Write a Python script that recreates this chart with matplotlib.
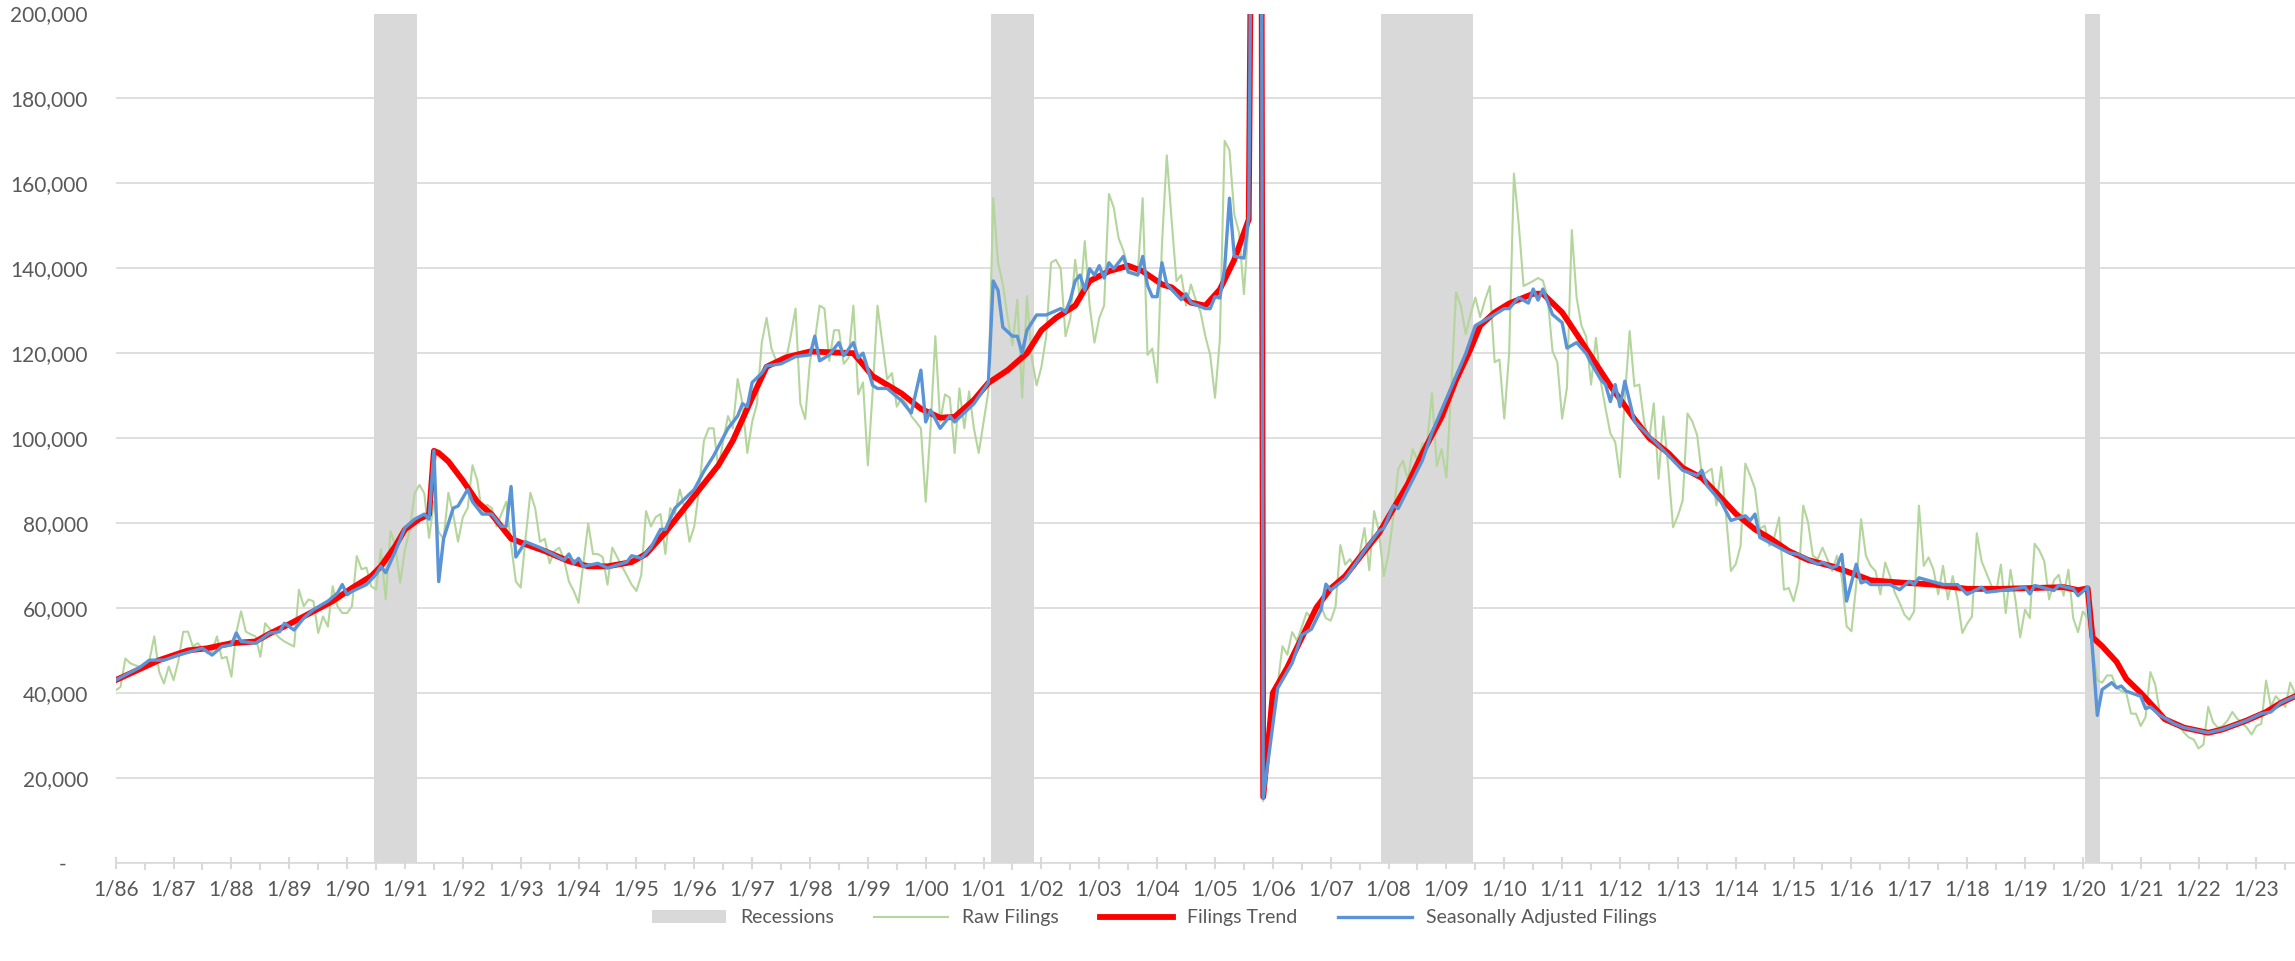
import matplotlib
matplotlib.use("Agg")
import matplotlib.pyplot as plt
from matplotlib.patches import Patch
from matplotlib.lines import Line2D
from matplotlib.ticker import FuncFormatter, MultipleLocator

# monthly raw filings (thousands), one row per year, 1/86 .. 9/23
raw_by_year = [
    [40.6, 41.4, 48.1, 47.0, 46.5, 46.2, 47.0, 47.7, 53.3, 45.0, 42.2, 46.2],   # 1986
    [43.0, 47.5, 54.4, 54.4, 50.9, 51.7, 50.5, 49.3, 49.8, 53.3, 48.1, 48.5],   # 1987
    [43.8, 54.1, 59.2, 54.4, 53.8, 53.3, 48.5, 56.4, 55.0, 54.1, 52.9, 52.1],   # 1988
    [51.5, 50.9, 64.3, 60.4, 62.0, 61.6, 54.1, 58.0, 55.6, 65.1, 60.4, 58.8],   # 1989
    [58.8, 60.4, 72.2, 69.1, 69.5, 65.1, 64.3, 73.8, 62.0, 78.1, 74.6, 65.9],   # 1990
    [73.8, 78.5, 87.0, 89.0, 87.0, 76.5, 85.0, 77.8, 76.3, 87.1, 82.1, 75.6],   # 1991
    [81.4, 83.5, 93.6, 90.0, 82.1, 84.3, 83.5, 79.2, 82.1, 85.0, 75.0, 66.2],   # 1992
    [64.8, 76.3, 87.1, 83.5, 75.6, 76.3, 70.5, 73.4, 74.2, 71.3, 66.2, 64.0],   # 1993
    [61.2, 70.5, 79.9, 72.7, 72.7, 72.0, 65.5, 74.2, 72.0, 69.8, 67.7, 65.5],   # 1994
    [64.0, 67.7, 82.8, 79.2, 81.4, 82.1, 72.7, 83.5, 82.1, 87.9, 83.5, 75.6],   # 1995
    [79.2, 87.9, 99.4, 102.3, 102.3, 92.9, 99.4, 105.2, 102.3, 113.9, 108.1, 96.5],   # 1996
    [103.8, 108.1, 122.5, 128.3, 121.1, 118.2, 117.5, 118.2, 124.0, 130.5, 108.1, 104.5],   # 1997
    [118.2, 123.0, 131.2, 130.5, 118.2, 125.4, 125.4, 117.5, 118.9, 131.2, 110.3, 113.1],   # 1998
    [93.6, 111.0, 131.2, 122.5, 113.9, 115.3, 107.4, 109.5, 108.1, 105.2, 103.8, 102.3],   # 1999
    [85.0, 102.3, 124.0, 103.8, 110.3, 109.5, 96.5, 111.7, 102.3, 111.0, 102.3, 96.5],   # 2000
    [103.8, 111.0, 156.5, 141.4, 136.2, 128.3, 121.8, 132.6, 109.5, 133.4, 118.9, 112.4],   # 2001
    [116.8, 124.0, 141.3, 142.0, 139.9, 124.0, 128.3, 142.0, 132.6, 146.4, 131.2, 122.5],   # 2002
    [128.3, 131.2, 157.5, 154.3, 147.1, 144.2, 139.9, 139.1, 139.1, 156.5, 119.6, 121.1],   # 2003
    [113.1, 145.6, 166.6, 151.4, 137.0, 138.4, 131.2, 136.2, 132.6, 129.7, 124.0, 119.6],   # 2004
    [109.5, 123.1, 170.0, 167.8, 152.7, 148.3, 133.9, 151.0, 300.0, 600.0, 14.5, 25.8],   # 2005
    [33.8, 42.0, 51.0, 49.0, 54.3, 52.3, 55.5, 58.9, 57.6, 60.9, 60.3, 57.6],   # 2006
    [57.0, 60.3, 74.8, 70.2, 71.5, 69.5, 72.8, 78.8, 68.9, 82.8, 78.1, 67.5],   # 2007
    [72.8, 81.5, 92.7, 94.7, 90.1, 97.4, 94.7, 98.7, 98.7, 110.6, 93.4, 97.4],   # 2008
    [90.7, 111.9, 134.4, 131.1, 124.5, 129.1, 133.1, 128.5, 132.5, 135.8, 117.9, 118.5],   # 2009
    [104.6, 119.9, 162.3, 150.3, 135.8, 136.4, 137.0, 137.7, 137.1, 133.1, 120.5, 117.9],   # 2010
    [104.6, 111.9, 149.0, 133.1, 126.5, 123.8, 112.6, 123.6, 113.4, 107.0, 101.1, 99.1],   # 2011
    [90.8, 109.4, 125.2, 112.2, 112.6, 103.9, 99.1, 108.2, 90.4, 105.1, 93.2, 79.0],   # 2012
    [81.7, 85.3, 105.8, 103.9, 100.7, 91.2, 92.0, 92.8, 84.1, 93.2, 81.7, 68.7],   # 2013
    [70.3, 74.6, 94.0, 91.2, 88.1, 78.6, 79.4, 74.6, 76.6, 81.3, 64.3, 64.7],   # 2014
    [61.6, 66.3, 84.1, 80.2, 72.3, 71.5, 74.2, 71.5, 68.7, 72.3, 67.1, 55.7],   # 2015
    [54.5, 65.5, 80.9, 72.3, 69.9, 68.7, 63.2, 70.7, 67.5, 63.6, 61.2, 58.4],   # 2016
    [57.2, 59.2, 84.1, 69.9, 71.9, 69.1, 63.2, 69.9, 62.0, 67.5, 62.0, 54.1],   # 2017
    [56.3, 58.0, 77.6, 71.0, 68.2, 65.3, 63.7, 70.2, 58.8, 69.0, 62.0, 53.1],   # 2018
    [59.6, 57.6, 75.1, 73.5, 71.0, 62.0, 66.5, 67.8, 62.9, 69.0, 57.6, 54.3],   # 2019
    [59.2, 57.6, 50.5, 43.0, 42.4, 44.1, 44.1, 41.2, 40.4, 40.0, 35.1, 35.1],   # 2020
    [32.2, 34.3, 44.9, 42.0, 35.1, 33.9, 33.1, 32.2, 32.2, 30.6, 29.5, 29.0],   # 2021
    [26.9, 27.8, 36.7, 33.1, 31.8, 32.2, 33.5, 35.5, 33.9, 33.1, 31.8, 30.2],   # 2022
    [32.2, 32.7, 42.9, 36.7, 39.2, 38.0, 36.7, 42.4, 40.0],   # 2023
]

# filings trend (year, month, thousands)
trend = [
    (1986, 1, 43.0), (1986, 10, 47.7), (1987, 4, 50.0), (1987, 8, 50.5), (1988, 1, 51.7),
    (1988, 6, 52.1), (1988, 9, 54.0), (1989, 1, 56.2), (1989, 6, 59.2), (1989, 10, 61.6),
    (1990, 2, 64.7), (1990, 6, 67.5), (1990, 8, 69.8), (1990, 11, 74.6), (1991, 1, 78.5),
    (1991, 4, 81.0), (1991, 6, 82.0), (1991, 7, 97.0), (1991, 8, 96.5), (1991, 10, 94.5),
    (1992, 1, 90.0), (1992, 4, 85.0), (1992, 7, 82.0), (1992, 11, 76.3), (1993, 2, 75.0),
    (1993, 6, 73.4), (1993, 11, 71.0), (1994, 3, 69.8), (1994, 7, 69.8), (1994, 12, 70.8),
    (1995, 3, 72.7), (1995, 7, 77.8), (1996, 1, 86.4), (1996, 6, 93.6), (1996, 9, 99.4),
    (1997, 1, 109.5), (1997, 4, 116.8), (1997, 8, 119.0), (1998, 1, 120.4), (1998, 10, 120.0),
    (1999, 2, 114.6), (1999, 8, 110.5), (1999, 12, 106.9), (2000, 4, 104.8), (2000, 7, 105.0),
    (2000, 11, 109.0), (2001, 2, 113.0), (2001, 6, 116.0), (2001, 10, 120.0), (2002, 1, 125.4),
    (2002, 4, 128.3), (2002, 8, 131.2), (2002, 11, 137.0), (2003, 3, 139.3), (2003, 7, 140.6),
    (2003, 10, 139.3), (2004, 2, 136.2), (2004, 4, 135.5), (2004, 8, 131.9), (2004, 11, 131.2),
    (2005, 2, 135.0), (2005, 5, 142.0), (2005, 8, 151.5), (2005, 9, 300.0), (2005, 10, 600.0),
    (2005, 11, 15.5), (2006, 1, 40.0), (2006, 4, 46.0), (2006, 7, 53.0), (2006, 10, 60.0),
    (2007, 1, 64.6), (2007, 4, 67.5), (2007, 7, 71.9), (2007, 11, 77.6), (2008, 2, 83.4),
    (2008, 5, 89.2), (2008, 8, 96.4), (2008, 12, 105.0), (2009, 3, 113.7), (2009, 6, 121.0),
    (2009, 8, 126.5), (2009, 11, 129.6), (2010, 2, 131.7), (2010, 7, 134.0), (2010, 9, 134.0),
    (2011, 1, 129.6), (2011, 4, 124.5), (2011, 8, 117.5), (2011, 11, 112.3), (2012, 4, 104.5),
    (2012, 7, 100.1), (2012, 11, 96.5), (2013, 2, 93.0), (2013, 6, 90.6), (2013, 9, 87.1),
    (2014, 1, 82.2), (2014, 5, 78.5), (2014, 8, 76.5), (2014, 12, 73.4), (2015, 4, 71.3),
    (2015, 9, 69.8), (2016, 2, 67.8), (2016, 5, 66.5), (2016, 11, 66.0), (2017, 6, 65.5),
    (2018, 1, 64.5), (2018, 8, 64.5), (2019, 3, 64.7), (2019, 9, 64.9), (2019, 12, 64.2),
    (2020, 2, 64.6), (2020, 3, 53.1), (2020, 5, 51.0), (2020, 8, 47.3), (2020, 10, 43.3),
    (2021, 1, 40.0), (2021, 4, 36.3), (2021, 6, 33.8), (2021, 10, 31.8), (2022, 3, 30.6),
    (2022, 6, 31.4), (2022, 11, 33.5), (2023, 3, 35.5), (2023, 6, 37.6), (2023, 9, 39.2),
]

# seasonally adjusted filings (year, month, thousands)
seas_adj = [
    (1986, 1, 43.0), (1986, 6, 46.0), (1986, 8, 47.7), (1986, 11, 47.7), (1987, 2, 48.9),
    (1987, 7, 50.5), (1987, 9, 48.9), (1987, 11, 50.9), (1988, 1, 51.3), (1988, 2, 54.1),
    (1988, 3, 52.1), (1988, 6, 51.7), (1988, 9, 54.1), (1988, 11, 54.4), (1988, 12, 56.4),
    (1989, 2, 54.8), (1989, 4, 57.6), (1989, 6, 59.6), (1989, 9, 61.6), (1989, 11, 63.5),
    (1989, 12, 65.5), (1990, 1, 63.1), (1990, 2, 63.9), (1990, 5, 65.5), (1990, 7, 67.9),
    (1990, 8, 69.8), (1990, 9, 68.3), (1990, 11, 73.4), (1991, 1, 78.9), (1991, 3, 80.9),
    (1991, 5, 82.1), (1991, 6, 80.9), (1991, 7, 97.0), (1991, 8, 66.2), (1991, 9, 76.3),
    (1991, 11, 83.5), (1991, 12, 84.0), (1992, 2, 87.9), (1992, 3, 85.0), (1992, 5, 82.1),
    (1992, 7, 82.1), (1992, 9, 79.2), (1992, 10, 79.2), (1992, 11, 88.6), (1992, 12, 72.0),
    (1993, 2, 75.6), (1993, 5, 74.2), (1993, 10, 71.3), (1993, 11, 72.7), (1993, 12, 70.5),
    (1994, 1, 71.7), (1994, 2, 69.8), (1994, 5, 70.5), (1994, 7, 69.4), (1994, 11, 70.8),
    (1994, 12, 72.3), (1995, 2, 71.7), (1995, 4, 74.2), (1995, 6, 78.5), (1995, 7, 78.5),
    (1995, 9, 83.5), (1996, 1, 87.9), (1996, 3, 92.2), (1996, 5, 95.8), (1996, 8, 102.3),
    (1996, 10, 105.2), (1996, 11, 108.1), (1996, 12, 107.4), (1997, 1, 113.1), (1997, 3, 115.3),
    (1997, 4, 117.0), (1997, 7, 117.5), (1997, 10, 119.2), (1998, 1, 119.6), (1998, 2, 124.0),
    (1998, 3, 118.2), (1998, 5, 119.6), (1998, 7, 122.5), (1998, 8, 119.4), (1998, 10, 122.5),
    (1998, 11, 118.9), (1998, 12, 120.0), (1999, 2, 112.4), (1999, 3, 111.7), (1999, 5, 111.7),
    (1999, 8, 108.8), (1999, 10, 105.9), (1999, 12, 116.0), (2000, 1, 103.8), (2000, 2, 106.6),
    (2000, 4, 102.3), (2000, 6, 105.2), (2000, 7, 103.8), (2000, 11, 108.1), (2001, 2, 113.1),
    (2001, 3, 137.0), (2001, 4, 134.8), (2001, 5, 126.1), (2001, 7, 124.0), (2001, 8, 124.0),
    (2001, 9, 120.0), (2001, 10, 125.4), (2001, 12, 129.0), (2002, 2, 129.0), (2002, 5, 130.5),
    (2002, 6, 129.7), (2002, 7, 132.6), (2002, 8, 137.0), (2002, 9, 138.4), (2002, 10, 134.8),
    (2002, 11, 139.9), (2002, 12, 138.4), (2003, 1, 140.6), (2003, 2, 137.7), (2003, 3, 141.3),
    (2003, 4, 139.9), (2003, 6, 142.8), (2003, 7, 139.1), (2003, 9, 138.4), (2003, 10, 142.8),
    (2003, 11, 136.0), (2003, 12, 133.3), (2004, 1, 133.3), (2004, 2, 141.3), (2004, 3, 136.2),
    (2004, 6, 132.6), (2004, 7, 134.0), (2004, 8, 131.9), (2004, 11, 130.5), (2004, 12, 130.5),
    (2005, 1, 133.3), (2005, 2, 133.0), (2005, 3, 140.0), (2005, 4, 156.5), (2005, 5, 142.8),
    (2005, 7, 142.4), (2005, 8, 152.2), (2005, 9, 300.0), (2005, 10, 600.0), (2005, 11, 15.2),
    (2006, 2, 41.1), (2006, 5, 47.0), (2006, 7, 53.6), (2006, 9, 55.0), (2006, 11, 59.6),
    (2006, 12, 65.6), (2007, 1, 64.2), (2007, 4, 66.9), (2007, 8, 73.5), (2007, 11, 78.1),
    (2007, 12, 78.8), (2008, 2, 84.1), (2008, 3, 83.4), (2008, 8, 94.7), (2008, 10, 101.3),
    (2009, 1, 109.3), (2009, 5, 119.9), (2009, 7, 126.5), (2009, 11, 129.1), (2010, 1, 130.5),
    (2010, 2, 130.5), (2010, 4, 133.1), (2010, 6, 131.8), (2010, 7, 135.1), (2010, 8, 132.5),
    (2010, 9, 135.1), (2010, 11, 129.1), (2011, 1, 127.2), (2011, 2, 121.2), (2011, 4, 122.5),
    (2011, 6, 119.9), (2011, 7, 117.7), (2011, 9, 113.8), (2011, 10, 112.6), (2011, 11, 108.6),
    (2011, 12, 112.6), (2012, 1, 107.4), (2012, 2, 113.4), (2012, 4, 103.9), (2012, 9, 98.3),
    (2013, 2, 92.4), (2013, 5, 91.2), (2013, 6, 92.4), (2013, 7, 88.9), (2013, 10, 84.9),
    (2013, 12, 80.6), (2014, 3, 81.7), (2014, 4, 80.6), (2014, 5, 82.1), (2014, 6, 76.6),
    (2014, 12, 73.0), (2015, 2, 72.6), (2015, 6, 70.3), (2015, 7, 70.7), (2015, 9, 69.5),
    (2015, 10, 69.9), (2015, 11, 72.6), (2015, 12, 61.6), (2016, 2, 70.3), (2016, 3, 65.9),
    (2016, 4, 66.3), (2016, 5, 65.5), (2016, 9, 65.5), (2016, 11, 64.3), (2017, 1, 66.3),
    (2017, 2, 65.5), (2017, 3, 67.1), (2017, 8, 65.5), (2017, 11, 65.5), (2018, 1, 63.2),
    (2018, 4, 64.9), (2018, 5, 63.7), (2018, 11, 64.5), (2019, 1, 64.9), (2019, 2, 63.3),
    (2019, 3, 65.3), (2019, 7, 64.1), (2019, 8, 65.3), (2019, 11, 64.5), (2019, 12, 62.9),
    (2020, 2, 64.9), (2020, 3, 50.0), (2020, 4, 34.7), (2020, 5, 40.8), (2020, 7, 42.4),
    (2020, 8, 41.2), (2020, 9, 41.6), (2020, 10, 40.4), (2021, 1, 39.2), (2021, 2, 36.3),
    (2021, 3, 36.7), (2021, 5, 34.7), (2021, 8, 32.7), (2021, 10, 31.8), (2022, 3, 30.6),
    (2022, 6, 31.4), (2022, 11, 33.5), (2023, 2, 35.1), (2023, 4, 35.5), (2023, 6, 37.6),
    (2023, 9, 39.2),
]

# recessions: (start year, month), (end year, month)
recessions = [
    ((1990, 7), (1991, 3)),
    ((2001, 3), (2001, 11)),
    ((2007, 12), (2009, 6)),
    ((2020, 2), (2020, 4)),
]

first_year = 1986
last_year = 2023


def month_idx(year, month):
    return (year - first_year) * 12 + (month - 1)


raw_vals = [v * 1000 for row in raw_by_year for v in row]
raw_x = list(range(len(raw_vals)))
trend_x = [month_idx(y, m) for y, m, v in trend]
trend_y = [v * 1000 for y, m, v in trend]
sa_x = [month_idx(y, m) for y, m, v in seas_adj]
sa_y = [v * 1000 for y, m, v in seas_adj]

plt.rcParams['font.family'] = ['Lato', 'DejaVu Sans']
text_color = '#595959'
grid_color = '#d9d9d9'

fig = plt.figure(figsize=(22.95, 9.61), dpi=100)
ax = fig.add_axes([115.7 / 2295, 1 - 862.7 / 961, 1 - 115.7 / 2295, (862.7 - 13.5) / 961])

for (s, e) in recessions:
    ax.axvspan(month_idx(*s) - 0.5, month_idx(*e) + 0.5, color='#d9d9d9', lw=0, zorder=1)

ax.plot(raw_x, raw_vals, color='#b4d59c', lw=1.5, zorder=3)
ax.plot(trend_x, trend_y, color='#ff0000', lw=4.2, zorder=4, solid_joinstyle='round')
ax.plot(sa_x, sa_y, color='#5b94d6', lw=2.4, zorder=5, solid_joinstyle='round')

ax.set_ylim(0, 200000)
ax.set_xlim(0, len(raw_vals) - 1)
ax.yaxis.set_major_locator(MultipleLocator(20000))
ax.yaxis.set_major_formatter(FuncFormatter(lambda v, p: '-    ' if v == 0 else f'{int(v):,}'))
ax.grid(axis='y', color=grid_color, lw=1.2, zorder=0)
ax.set_axisbelow(True)

n_years = last_year - first_year + 1
ax.set_xticks([i * 12 for i in range(n_years)])
ax.set_xticklabels([f'1/{(first_year + i) % 100:02d}' for i in range(n_years)])
ax.set_xticks([i * 12 + 6 for i in range(n_years)], minor=True)

for side in ['top', 'right', 'left']:
    ax.spines[side].set_visible(False)
ax.spines['bottom'].set_color(grid_color)
ax.spines['bottom'].set_linewidth(1.2)

ax.tick_params(axis='y', length=0, pad=20, labelsize=15, labelcolor=text_color)
ax.tick_params(axis='x', which='major', length=8, direction='inout', color=grid_color,
               width=1.5, pad=8, labelsize=15, labelcolor=text_color)
ax.tick_params(axis='x', which='minor', length=5, direction='out', color=grid_color, width=1.5)

handles = [
    Patch(facecolor='#d9d9d9', edgecolor='none'),
    Line2D([], [], color='#b4d59c', lw=1.5),
    Line2D([], [], color='#ff0000', lw=4.2),
    Line2D([], [], color='#5b94d6', lw=2.4),
]
labels = ['Recessions', 'Raw Filings', 'Filings Trend', 'Seasonally Adjusted Filings']
fig.legend(handles, labels, loc='center', bbox_to_anchor=(0.503, 0.045), ncol=4, frameon=False,
           fontsize=14, labelcolor=text_color, handlelength=3.8, handleheight=0.62,
           columnspacing=2.1, handletextpad=0.7)

fig.savefig('out.png', dpi=100)
